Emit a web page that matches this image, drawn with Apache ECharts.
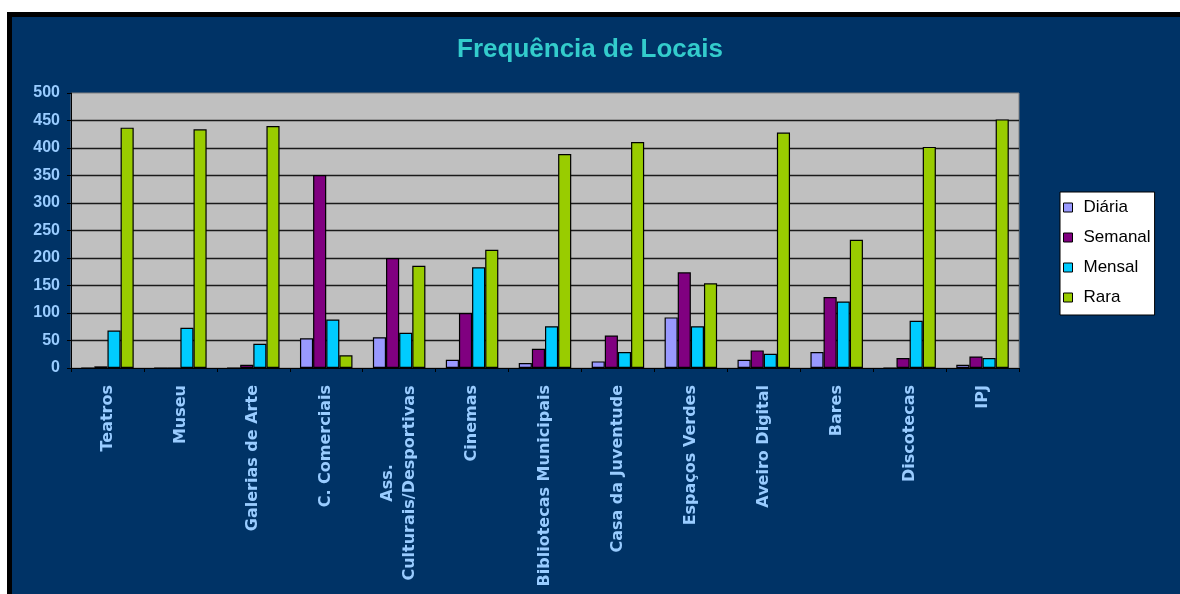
<!DOCTYPE html>
<html>
<head>
<meta charset="utf-8">
<script src="https://cdn.jsdelivr.net/npm/echarts@6/dist/echarts.min.js"></script>
<style>
  html, body { margin: 0; padding: 0; background: #ffffff; }
  #wrap { position: relative; width: 1180px; height: 594px; background: #ffffff; overflow: hidden; }
  #frame { position: absolute; left: 7px; top: 12px; width: 1173px; height: 582px; box-sizing: border-box;
           background: #003366; border-left: 5px solid #000; border-top: 5px solid #000; }
  #chart { position: absolute; left: 0; top: 0; width: 1180px; height: 594px; }
</style>
</head>
<body>
<div id="wrap"><div id="frame"></div><div id="chart"></div></div>
<script>
const titleText = 'Frequência de Locais';
const categories = ['Teatros', 'Museu', 'Galerias de Arte', 'C. Comerciais', 'Ass.\nCulturais/Desportivas',
  'Cinemas', 'Bibliotecas Municipais', 'Casa da Juventude', 'Espaços Verdes', 'Aveiro Digital',
  'Bares', 'Discotecas', 'IPJ'];
const seriesNames = ['Diária', 'Semanal', 'Mensal', 'Rara'];
const diaria  = [0, 0, 0, 54, 56, 15, 9, 12, 92, 15, 29, 0, 6];
const semanal = [3, 0, 6, 351, 200, 100, 35, 59, 174, 32, 129, 18, 21];
const mensal  = [68, 73, 44, 88, 64, 183, 76, 29, 76, 26, 121, 86, 18];
const rara    = [437, 434, 440, 23, 186, 215, 389, 411, 154, 428, 233, 402, 452];
const colors  = ['#9999FF', '#800080', '#00CCFF', '#99CC00'];
const yMin = 0, yMax = 500, yStep = 50;

const xFont = { fontFamily: 'DejaVu Sans', fontWeight: 'bold', fontSize: 16, color: '#99CCFF' };
const cv = document.createElement('canvas').getContext('2d');
cv.font = 'bold 16px "DejaVu Sans"';
function blockWidth(s) {
  return Math.ceil(Math.max.apply(null, s.split('\n').map(l => cv.measureText(l).width)));
}

const chart = echarts.init(document.getElementById('chart'), null, { renderer: 'canvas' });
const allData = [diaria, semanal, mensal, rara];
chart.setOption({
  backgroundColor: 'transparent',
  animation: false,
  title: {
    text: titleText, left: 'center', top: 32,
    textStyle: { fontFamily: 'Liberation Sans', fontWeight: 'bold', fontSize: 26, color: '#33CCCC' }
  },
  legend: {
    orient: 'vertical', left: 1060, top: 192,
    data: seriesNames,
    icon: 'rect', itemWidth: 9, itemHeight: 9, itemGap: 13,
    backgroundColor: '#ffffff', borderColor: '#000000', borderWidth: 1, borderRadius: 0,
    padding: [7, 4, 9, 3],
    itemStyle: { borderColor: '#000', borderWidth: 1 },
    textStyle: { fontFamily: 'Liberation Sans', fontSize: 17, lineHeight: 17, color: '#000', padding: [0, 0, 0, 6] }
  },
  grid: {
    left: 71, top: 93, right: 161, bottom: 226,
    show: true, backgroundColor: '#C0C0C0', borderColor: '#808080', borderWidth: 1
  },
  xAxis: {
    type: 'category', data: categories,
    axisLine: { show: true, lineStyle: { color: '#000', width: 1 } },
    axisTick: { show: true, length: 4, lineStyle: { color: '#000' } },
    axisLabel: Object.assign({
      rotate: 90, margin: 17, interval: 0,
      formatter: function (v) {
        if (v.indexOf('\n') < 0) return v;
        return v.split('\n').map(l => '{c|' + l + '}').join('\n');
      },
      rich: { c: Object.assign({ width: blockWidth(categories[4]), align: 'center', lineHeight: 22 }, xFont) }
    }, xFont)
  },
  yAxis: {
    type: 'value', min: yMin, max: yMax, interval: yStep,
    axisLine: { show: true, lineStyle: { color: '#000', width: 1 } },
    axisTick: { show: true, length: 4, lineStyle: { color: '#000' } },
    axisLabel: { margin: 11, fontFamily: 'Liberation Sans', fontWeight: 'bold', fontSize: 16, color: '#99CCFF' },
    splitLine: { show: true, showMaxLine: false, showMinLine: false, lineStyle: { color: '#1a1a1a', width: 1.3 } }
  },
  series: seriesNames.map((n, i) => ({
    name: n, type: 'bar', data: allData[i],
    barGap: '0%', barCategoryGap: '28%',
    itemStyle: { color: colors[i], borderColor: '#000', borderWidth: 1.2 }
  }))
});
</script>
</body>
</html>
